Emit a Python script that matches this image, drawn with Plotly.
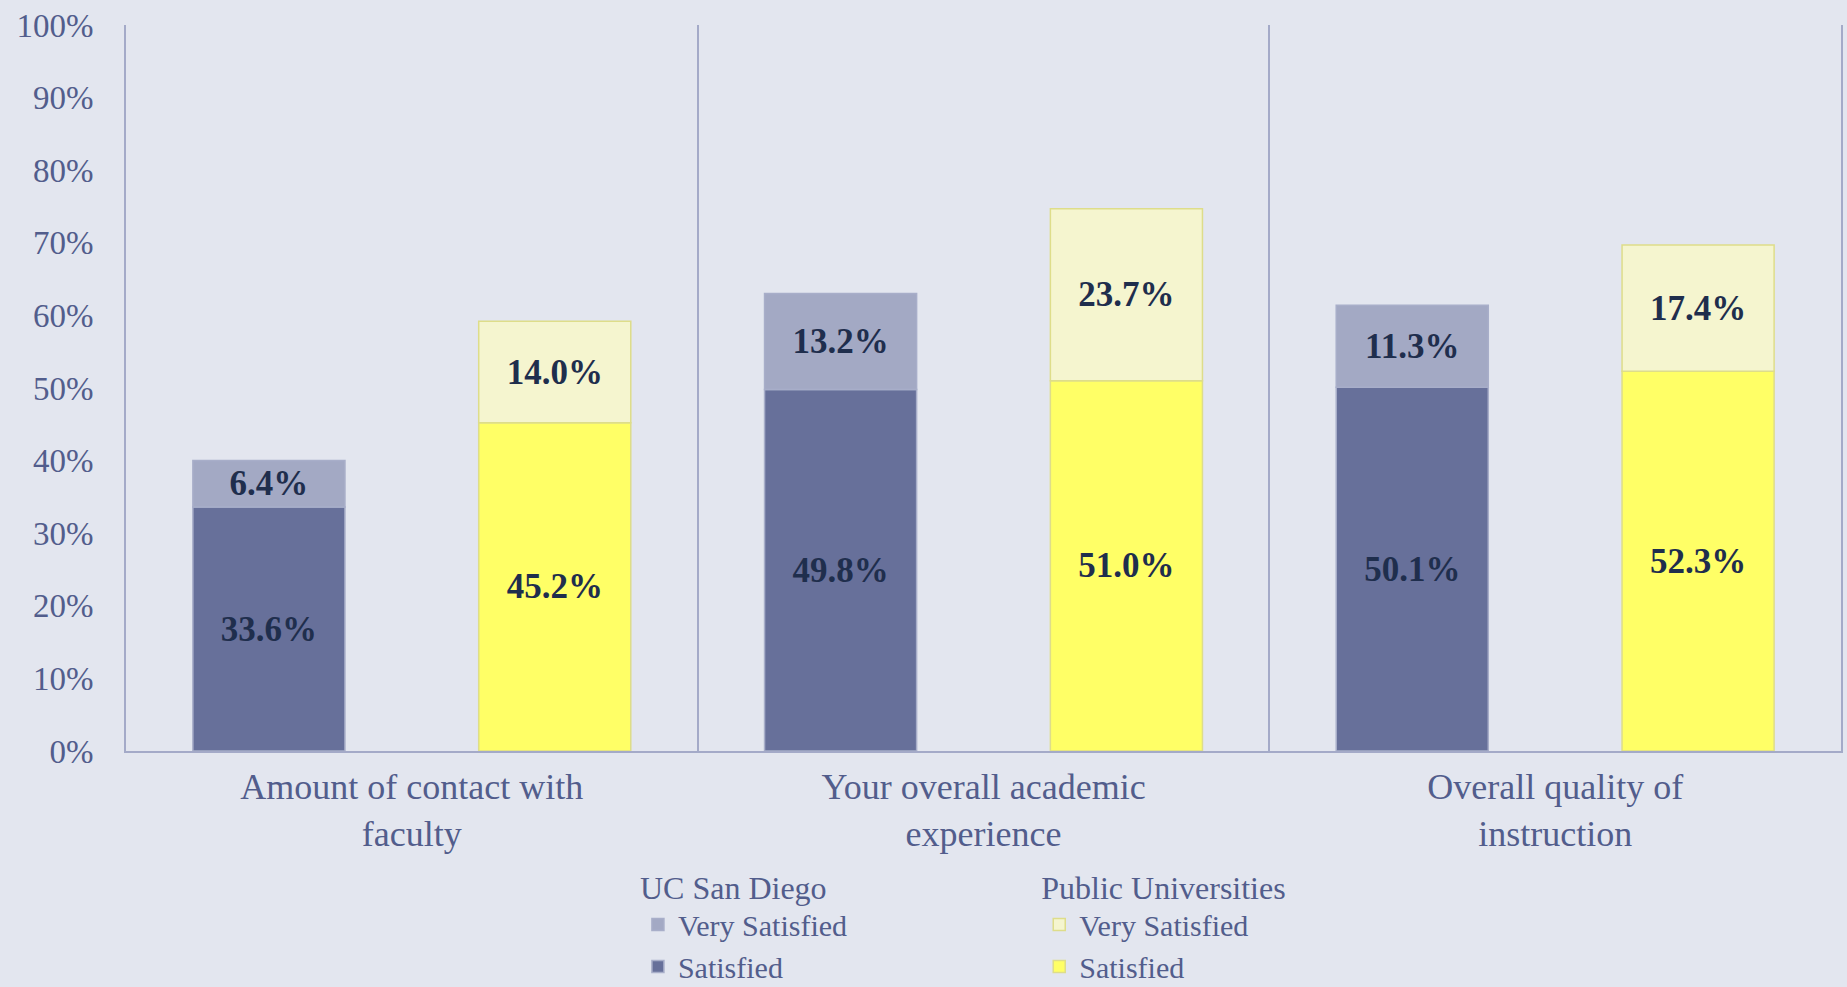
import plotly.graph_objects as go

# Survey items (category axis)
categories = [
    "Amount of contact with<br>faculty",
    "Your overall academic<br>experience",
    "Overall quality of<br>instruction",
]

# Percent of respondents, by institution and satisfaction level
ucsd_satisfied = [33.6, 49.8, 50.1]
ucsd_very_satisfied = [6.4, 13.2, 11.3]
public_satisfied = [45.2, 51.0, 52.3]
public_very_satisfied = [14.0, 23.7, 17.4]

FONT = "Liberation Serif"
AXIS_TEXT = "#525d8c"
LABEL_TEXT = "#1f2e4d"
BG = "#e3e6ef"
LINE = "#a4aac8"


def labels(values):
    return [f"{v:.1f}%" for v in values]


def stacked_pair(group, legend, sat, very, sat_color, very_color, edge):
    base_bar = go.Bar(
        x=categories, y=sat, name="Satisfied", offsetgroup=group,
        legend=legend, marker=dict(color=sat_color, line=dict(color=edge, width=1.5)),
        text=labels(sat), textposition="inside", insidetextanchor="middle",
        textfont=dict(family=FONT, size=35, color=LABEL_TEXT, weight="bold"),
        hoverinfo="skip",
    )
    top_bar = go.Bar(
        x=categories, y=very, base=sat, name="Very Satisfied", offsetgroup=group,
        legend=legend, marker=dict(color=very_color, line=dict(color=edge, width=1.5)),
        text=labels(very), textposition="inside", insidetextanchor="middle",
        textfont=dict(family=FONT, size=35, color=LABEL_TEXT, weight="bold"),
        hoverinfo="skip",
    )
    return [base_bar, top_bar]


fig = go.Figure()
for tr in stacked_pair("ucsd", "legend", ucsd_satisfied, ucsd_very_satisfied,
                       "#67709a", "#a3a9c4", "#a8aec9"):
    fig.add_trace(tr)
for tr in stacked_pair("public", "legend2", public_satisfied, public_very_satisfied,
                       "#ffff66", "#f5f5cf", "#dedd8a"):
    fig.add_trace(tr)

legend_common = dict(
    orientation="v", traceorder="reversed", xanchor="left", yanchor="top",
    bgcolor="rgba(0,0,0,0)", itemwidth=30, tracegroupgap=0,
    font=dict(family=FONT, size=30, color=AXIS_TEXT),
    itemclick=False, itemdoubleclick=False,
)

fig.update_layout(
    width=1847, height=987,
    margin=dict(l=126, r=6, t=25, b=236, autoexpand=False),
    paper_bgcolor=BG, plot_bgcolor=BG,
    barmode="group", bargap=0, bargroupgap=0.468,
    font=dict(family=FONT, color=AXIS_TEXT),
    legend=dict(title=dict(text="UC San Diego", side="top",
                           font=dict(family=FONT, size=32, color=AXIS_TEXT)),
                x=0.2985, y=-0.146, **legend_common),
    legend2=dict(title=dict(text="Public Universities", side="top",
                            font=dict(family=FONT, size=32, color=AXIS_TEXT)),
                 x=0.5325, y=-0.146, **legend_common),
    xaxis=dict(
        type="category", tickson="boundaries", showgrid=True, gridcolor=LINE,
        gridwidth=1.5, ticks="", showline=True, linecolor=LINE, linewidth=2,
        tickfont=dict(family=FONT, size=36, color=AXIS_TEXT),
        ticklabelstandoff=3, fixedrange=True,
    ),
    yaxis=dict(
        range=[0, 100], dtick=10, ticksuffix="%", showgrid=False, zeroline=False,
        showline=True, mirror=True, linecolor=LINE, linewidth=2, ticks="",
        tickfont=dict(family=FONT, size=33, color=AXIS_TEXT),
        ticklabelstandoff=24, fixedrange=True,
    ),
)

fig.write_html("out.html")
